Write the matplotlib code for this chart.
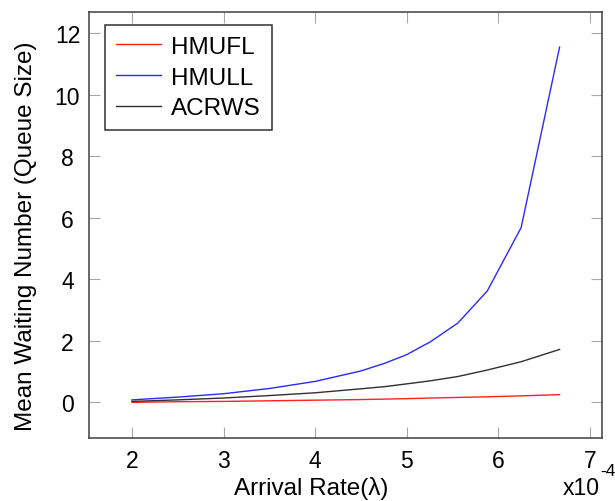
import matplotlib
matplotlib.use("Agg")
import matplotlib.pyplot as plt

# arrival rate, in units of 1e-4
arrival_rate = [2.0, 2.5, 3.0, 3.5, 4.0, 4.5, 4.76, 5.0, 5.26, 5.56, 5.88, 6.25, 6.67]
hmufl = [0.00, 0.02, 0.03, 0.05, 0.07, 0.09, 0.105, 0.12, 0.14, 0.16, 0.18, 0.21, 0.25]
hmull = [0.08, 0.17, 0.28, 0.45, 0.68, 1.02, 1.27, 1.55, 1.97, 2.58, 3.62, 5.68, 11.55]
acrws = [0.03, 0.08, 0.14, 0.22, 0.31, 0.44, 0.51, 0.60, 0.70, 0.84, 1.05, 1.32, 1.72]

x_ticks = [2, 3, 4, 5, 6, 7]
y_ticks = [0, 2, 4, 6, 8, 10, 12]

plt.rcParams["font.family"] = ["Liberation Sans", "DejaVu Sans"]

fig = plt.figure(figsize=(6.15, 5.02), dpi=100)
ax = fig.add_axes([89 / 615, 1 - 438.7 / 502, 512.7 / 615, 426 / 502])

ax.plot(arrival_rate, hmufl, color="#ff2020", lw=1.0, label="HMUFL")
ax.plot(arrival_rate, hmull, color="#2a2aff", lw=1.0, label="HMULL")
ax.plot(arrival_rate, acrws, color="#303030", lw=1.0, label="ACRWS")

ax.set_xlim(1.53, 7.13)
ax.set_ylim(-1.15, 12.7)
ax.set_xticks(x_ticks)
ax.set_yticks(y_ticks)

for s in ax.spines.values():
    s.set_color("#404040")
    s.set_linewidth(1.1)

ax.tick_params(axis="both", which="both", direction="in", length=8,
               width=0.8, color="#a8a8a8", top=True, right=True,
               labelsize=16.5, labelcolor="black")
ax.tick_params(axis="x", pad=8)
ax.tick_params(axis="y", pad=15.5)
for lab in ax.get_yticklabels():
    lab.set_horizontalalignment("center")

ax.set_xlabel("Arrival Rate(\u03bb)", fontsize=17.5)
ax.xaxis.set_label_coords(0.433, -0.132)
ax.xaxis.label.set_verticalalignment("baseline")

ax.set_ylabel("Mean Waiting Number (Queue Size)", fontsize=17.5)
ax.yaxis.set_label_coords(-0.112, 0.476)
ax.yaxis.label.set_verticalalignment("baseline")

leg = ax.legend(loc="upper left", bbox_to_anchor=(0.0312, 0.9688),
                borderaxespad=0, fontsize=17.5, handlelength=1.85,
                handletextpad=0.42, labelspacing=0.36, borderpad=0.45,
                fancybox=False, framealpha=1)
leg.get_frame().set_edgecolor("#303030")
leg.get_frame().set_linewidth(1.1)

fig.text(563 / 615, 1 - 495 / 502, "x10", fontsize=16.5, ha="left", va="baseline")
fig.text(600 / 615, 1 - 476 / 502, "-4", fontsize=12.5, ha="left", va="baseline")

fig.savefig("out.png", dpi=100)
